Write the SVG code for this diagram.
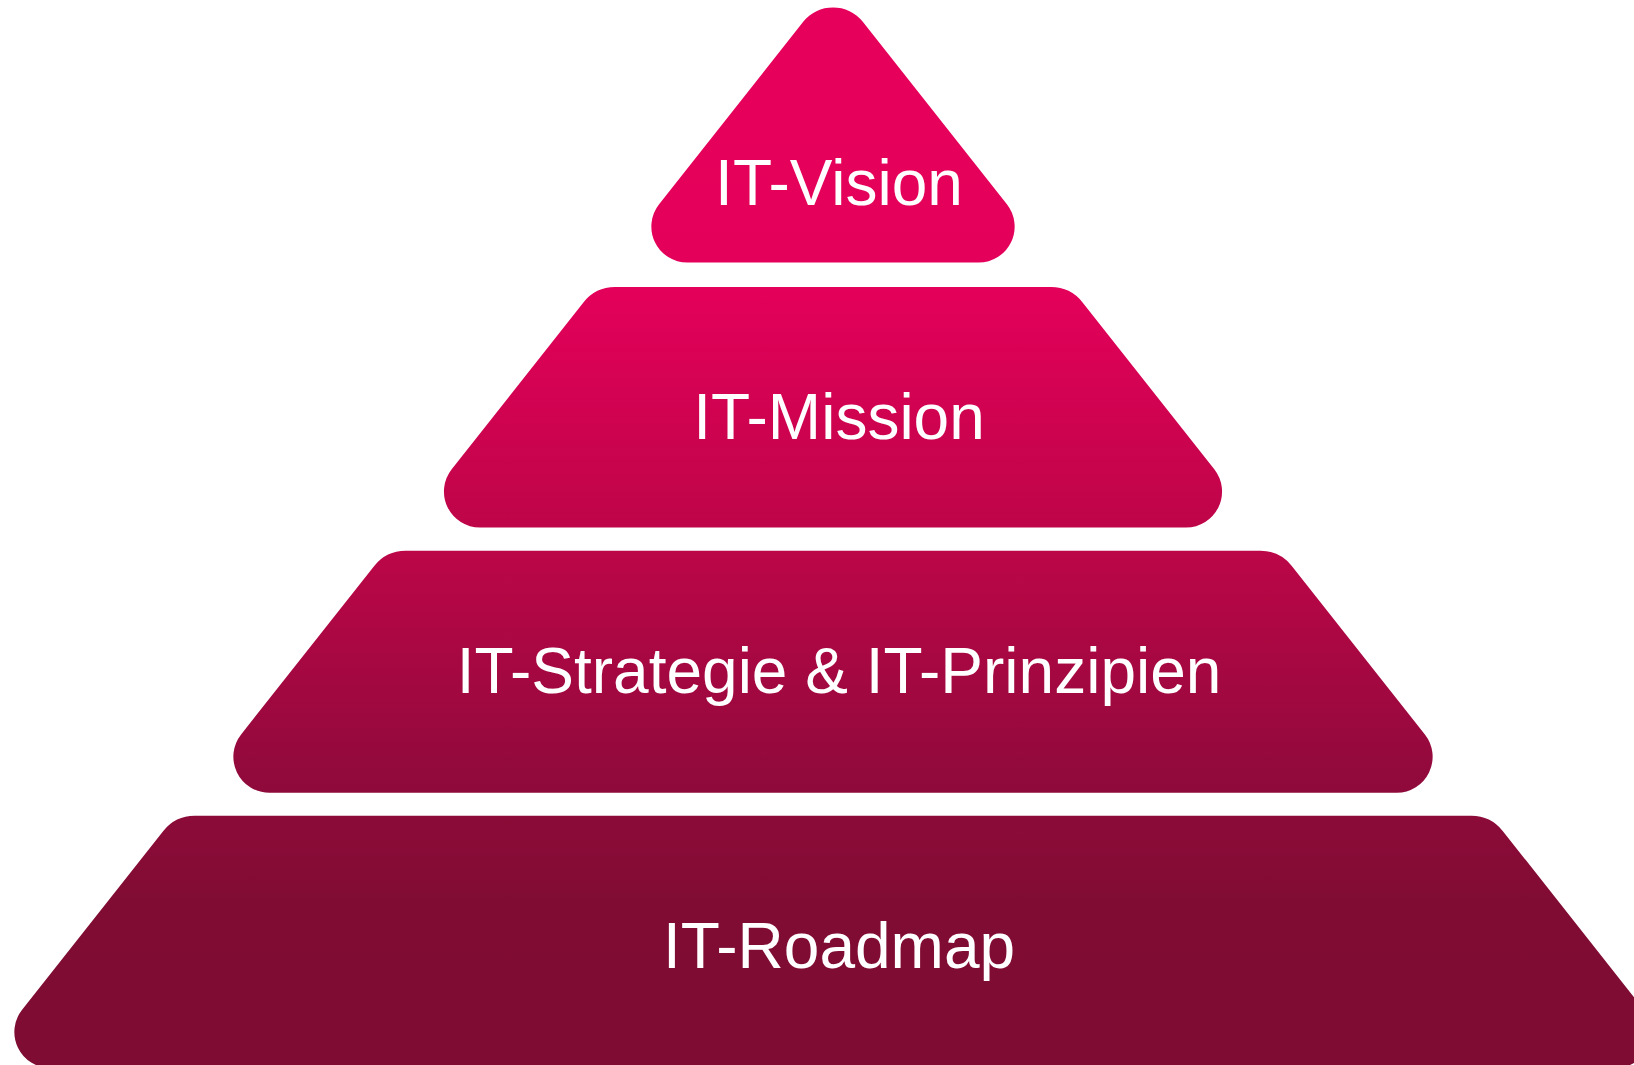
<svg xmlns="http://www.w3.org/2000/svg" width="1634" height="1065" viewBox="0 0 1634 1065">
  <style>
    .label { font-family: "Liberation Sans", Arial, sans-serif; font-size: 64px; fill: #ffffff; text-anchor: middle; }
  </style>
  <defs>
    <linearGradient id="g1" x1="0" y1="0" x2="0" y2="1">
      <stop offset="0" stop-color="#E7005B"/>
      <stop offset="1" stop-color="#E4005A"/>
    </linearGradient>
    <linearGradient id="g2" x1="0" y1="0" x2="0" y2="1">
      <stop offset="0" stop-color="#E4005A"/>
      <stop offset="1" stop-color="#BE0548"/>
    </linearGradient>
    <linearGradient id="g3" x1="0" y1="0" x2="0" y2="1">
      <stop offset="0" stop-color="#BC0647"/>
      <stop offset="1" stop-color="#8E0A3A"/>
    </linearGradient>
    <linearGradient id="g4" x1="0" y1="0" x2="0" y2="1">
      <stop offset="0" stop-color="#8C0B38"/>
      <stop offset="0.35" stop-color="#800C33"/>
      <stop offset="1" stop-color="#7E0C33"/>
    </linearGradient>
  </defs>
  <rect x="0" y="0" width="1634" height="1065" fill="#ffffff"/>
  <g id="level-roadmap">
    <path d="M 194.7 815.7 H 1471.3 A 40 40 0 0 1 1502.7 830.9 L 1643.9 1009.7 A 36 36 0 0 1 1615.7 1068 H 50.3 A 36 36 0 0 1 22.1 1009.7 L 163.3 830.9 A 40 40 0 0 1 194.7 815.7 Z" fill="url(#g4)"/>
    <text class="label" x="839" y="968">IT-Roadmap</text>
  </g>
  <g id="level-strategie">
    <path d="M 405.6 550.7 H 1260.4 A 40 40 0 0 1 1291.8 565.9 L 1424.9 734.4 A 36 36 0 0 1 1396.7 792.7 H 269.3 A 36 36 0 0 1 241.1 734.4 L 374.2 565.9 A 40 40 0 0 1 405.6 550.7 Z" fill="url(#g3)"/>
    <text class="label" x="839" y="693">IT-Strategie &amp; IT-Prinzipien</text>
  </g>
  <g id="level-mission">
    <path d="M 615 287 H 1051 A 40 40 0 0 1 1082.4 302.2 L 1214.3 469.2 A 36 36 0 0 1 1186.1 527.5 H 479.9 A 36 36 0 0 1 451.7 469.2 L 583.6 302.2 A 40 40 0 0 1 615 287 Z" fill="url(#g2)"/>
    <text class="label" x="839" y="439">IT-Mission</text>
  </g>
  <g id="level-vision">
    <path d="M 803.2 21.8 A 38 38 0 0 1 862.8 21.8 L 1006.9 204.3 A 36 36 0 0 1 978.7 262.6 H 687.3 A 36 36 0 0 1 659.1 204.3 Z" fill="url(#g1)"/>
    <text class="label" x="839" y="205">IT-Vision</text>
  </g>
  <g id="connectors"/>
</svg>
